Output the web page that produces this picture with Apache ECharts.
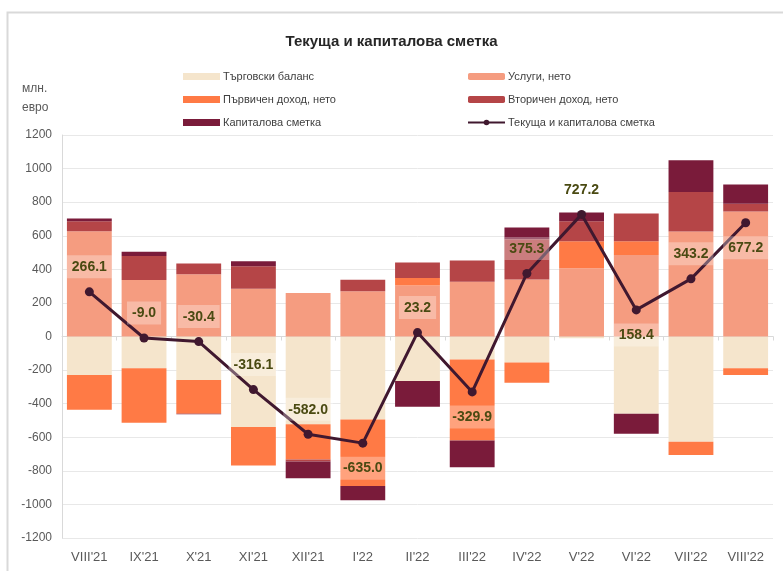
<!DOCTYPE html>
<html><head><meta charset="utf-8">
<script src="https://cdn.jsdelivr.net/npm/echarts@6/dist/echarts.min.js"></script>
<style>html,body{margin:0;padding:0;background:#fff}#c{width:783px;height:571px}</style>
</head><body><div id="c"></div>
<script>
const categories = ["VIII'21","IX'21","X'21","XI'21","XII'21","I'22","II'22","III'22","IV'22","V'22","VI'22","VII'22","VIII'22"];
const trade     = [-230, -189, -259, -539, -523, -494, -265, -137, -155, -10, -460, -627, -189];
const services  = [627, 336, 370, 285, 259, 269, 304, 326, 340, 406, 486, 625, 744];
const primary   = [-206, -324, -201, -229, -209, -397, 44, -482, -120, 161, 81, -79, -40];
const secondary = [60, 144, 64, 133, -12, 69, 92, 126, 239, 120, 165, 235, 46];
const capital   = [15, 24, -3, 30, -100, -84, -153, -159, 70, 51, -119, 189, 115];
const total     = [266.1, -9.0, -30.4, -316.1, -582.0, -635.0, 23.2, -329.9, 375.3, 727.2, 158.4, 343.2, 677.2];
const labelPos  = ['top','top','top','top','top','bottom','top','bottom','top','top','bottom','top','bottom'];
const yTicks = {min: -1200, max: 1200, interval: 200};

const names = ['Търговски баланс','Услуги, нето','Първичен доход, нето','Вторичен доход, нето','Капиталова сметка','Текуща и капиталова сметка'];
const colors = ['#F5E5CC','#F59C80','#FF7A45','#B54547','#7A1B3A','#40182F'];
const sans = "'Liberation Sans',Arial,sans-serif";

const chart = echarts.init(document.getElementById('c'), null, {renderer:'canvas'});
const barData = [trade, services, primary, secondary, capital];
const series = barData.map((d,i)=>({
  name: names[i], type:'bar', stack:'s', data:d, barCategoryGap:'18%',
  itemStyle:{color:colors[i]}, xAxisIndex:0
}));
series.push({
  name: names[5], type:'line', data: total.map((v,i)=>({value:v, label:{position:labelPos[i]}})),
  xAxisIndex:0, z:5,
  lineStyle:{color:colors[5], width:3}, itemStyle:{color:colors[5]},
  symbol:'circle', symbolSize:9,
  label:{show:true, formatter:p=>p.value.toFixed(1), distance:9,
    fontFamily:sans, fontWeight:'bold', fontSize:14, color:'#4A4A12',
    backgroundColor:'rgba(255,255,255,0.3)', padding:[5,5,4,5]}
});

chart.setOption({
  animation:false,
  backgroundColor:'#fff',
  title:{text:'Текуща и капиталова сметка', left:'center', top:29,
    textStyle:{fontFamily:sans, fontWeight:'bold', fontSize:15, color:'#262626'}},
  graphic:[
    {type:'rect', shape:{x:7.5,y:12.5,width:900,height:700}, style:{fill:'none', stroke:'#d9d9d9', lineWidth:2}, silent:true},
    {type:'text', left:22, top:79, style:{text:'млн.\nевро', fontFamily:sans, fontSize:12, lineHeight:19, fill:'#595959'}}
  ],
  legend:[
    {data:[names[0],names[2],names[4]], orient:'vertical', left:178, top:66, itemGap:12, itemWidth:37, itemHeight:7,
     textStyle:{fontFamily:sans, fontSize:11, color:'#404040', padding:[0,0,0,-2]}, icon:'rect'},
    {data:[names[1],names[3],names[5]], orient:'vertical', left:462, top:66, itemGap:12, itemWidth:37, itemHeight:7,
     textStyle:{fontFamily:sans, fontSize:11, color:'#404040', padding:[0,0,0,-2]}}
  ],
  grid:{left:62, right:10, top:135, bottom:33, containLabel:false},
  xAxis:[
    {type:'category', data:categories, position:'bottom',
     axisLine:{onZero:true, lineStyle:{color:'#d9d9d9'}},
     axisTick:{show:true, length:4, lineStyle:{color:'#d9d9d9'}},
     axisLabel:{show:false}},
    {type:'category', data:categories, position:'bottom',
     axisLine:{show:false, onZero:false}, axisTick:{show:false},
     axisLabel:{fontFamily:sans, fontSize:13, color:'#595959', margin:13}}
  ],
  yAxis:{type:'value', min:yTicks.min, max:yTicks.max, interval:yTicks.interval,
    axisLine:{show:true, lineStyle:{color:'#d9d9d9'}},
    axisLabel:{fontFamily:sans, fontSize:12, color:'#595959', margin:10, formatter:v=>String(v)},
    splitLine:{lineStyle:{color:'#e8e8e8'}}},
  series: series
});
</script></body></html>
